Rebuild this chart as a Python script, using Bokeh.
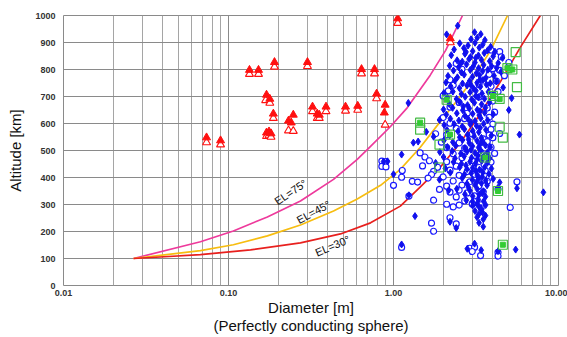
import math
from bokeh.plotting import figure
from bokeh.models import FixedTicker, PrintfTickFormatter, Range1d
from bokeh.embed import file_html
from bokeh.resources import INLINE
from bokeh.core.properties import value

# ---------------- data ----------------
x_ticks = [0.01, 0.1, 1.0, 10.0]
x_minor = [2e-2, 3e-2, 4e-2, 5e-2, 6e-2, 7e-2, 8e-2, 9e-2,
           0.2, 0.3, 0.4, 0.5, 0.6, 0.7, 0.8, 0.9,
           2, 3, 4, 5, 6, 7, 8, 9]
y_ticks = [0, 100, 200, 300, 400, 500, 600, 700, 800, 900, 1000]

x_title = "Diameter [m]\n(Perfectly conducting sphere)"
y_title = "Altitude [km]"

# detection limit curves (diameter m, altitude km)
el75_d = [0.0266, 0.0676, 0.107, 0.172, 0.273, 0.433, 0.603, 0.726, 0.956, 1.21, 1.67, 2.07, 2.62]
el75_h = [100, 162, 202, 254, 313, 393, 467, 515, 588, 658, 779, 871, 1000]
el45_d = [0.0266, 0.0676, 0.107, 0.172, 0.273, 0.433, 0.603, 0.835, 1.10, 1.45, 1.92, 2.45, 2.94, 3.88, 4.91]
el45_h = [100, 129, 151, 184, 224, 276, 320, 371, 430, 511, 607, 688, 754, 871, 1000]
el30_d = [0.0266, 0.0676, 0.136, 0.273, 0.477, 0.726, 1.10, 1.45, 1.92, 2.54, 3.36, 4.44, 5.87, 7.76]
el30_h = [100, 114, 132, 158, 191, 232, 294, 364, 438, 529, 636, 754, 882, 1000]

curve_labels = ["EL=75°", "EL=45°", "EL=30°"]
curve_label_d = [0.238, 0.327, 0.427]
curve_label_h = [346, 272, 147]
curve_label_angle_deg = [34, 28, 23]

# red triangles (filled) and open triangles
tri_fill_d = [0.0736, 0.0895, 0.134, 0.152, 0.190, 0.301, 0.170, 0.178, 0.187, 0.170, 0.176, 0.181,
              0.231, 0.247, 0.240, 0.323, 0.345, 0.355, 0.39, 0.512, 0.607, 0.64, 0.767, 0.79,
              0.89, 0.88, 1.06, 2.21]
tri_fill_h = [548, 537, 798, 798, 827, 827, 706, 691, 636, 566, 570, 563,
              610, 632, 603, 662, 636, 632, 662, 662, 665, 801, 801, 710,
              669, 640, 989, 915]
tri_open_d = [0.0736, 0.0895, 0.134, 0.152, 0.190, 0.301, 0.168, 0.178, 0.187, 0.170, 0.176, 0.181,
              0.231, 0.247, 0.323, 0.345, 0.355, 0.39, 0.512, 0.607, 0.64, 0.767, 0.79,
              0.89, 1.06, 2.21]
tri_open_h = [530, 522, 783, 783, 810, 812, 686, 676, 620, 553, 556, 550,
              574, 572, 645, 620, 620, 645, 647, 650, 785, 785, 693,
              595, 972, 900]

# blue filled markers (diameter m, altitude km)
blue_filled = [
    (2.45, 962), (2.1, 930), (3.1, 938), (3.38, 931), (2.95, 912), (3.22, 918), (3.58, 909),
    (2.52, 897), (2.83, 889), (3.12, 899), (3.47, 892), (3.88, 884), (2.33, 874), (2.67, 879),
    (3.02, 868), (3.31, 881), (3.72, 871), (4.12, 866), (2.75, 865),
    (2.24, 853), (2.71, 858), (2.93, 846), (3.27, 852), (3.55, 861), (4.02, 849), (4.58, 843), (3.15, 843),
    (2.43, 834), (2.61, 829), (2.87, 839), (3.12, 826), (3.41, 836), (3.83, 831), (4.31, 824), (2.55, 822),
    (2.19, 814), (2.48, 808), (2.77, 819), (3.04, 811), (3.28, 805), (3.52, 817), (3.93, 812), (4.22, 806),
    (2.31, 796), (2.58, 789), (2.92, 798), (3.18, 786), (3.47, 794), (3.73, 799), (4.48, 791),
    (2.14, 776), (2.44, 771), (2.68, 781), (3.01, 773), (3.32, 779), (3.62, 768), (4.07, 777), (3.35, 763),
    (2.08, 752), (2.36, 759), (2.62, 748), (2.89, 757), (3.21, 751), (3.49, 761), (3.86, 749), (4.21, 756),
    (2.22, 738), (2.51, 731), (2.79, 741), (3.06, 729), (3.36, 736), (3.66, 744), (4.62, 733), (2.95, 742),
    (2.02, 713), (2.29, 718), (2.58, 709), (2.91, 716), (3.16, 721), (3.44, 711), (3.76, 717), (4.01, 708),
    (2.12, 696), (2.41, 691), (2.72, 699), (2.98, 689), (3.27, 697), (3.56, 692), (5.2, 694), (3.15, 702),
    (1.23, 676), (2.18, 672), (2.52, 679), (2.81, 668), (3.09, 677), (3.42, 671), (3.82, 678), (2.65, 663),
    (2.01, 652), (2.28, 658), (2.63, 649), (2.88, 656), (3.22, 651), (3.61, 659), (5.0, 650), (3.35, 646),
    (2.09, 633), (2.42, 638), (2.71, 629), (3.02, 636), (3.31, 631), (3.57, 640), (4.02, 634),
    (1.9, 613), (2.21, 618), (2.49, 611), (2.83, 617), (3.12, 609), (3.38, 619), (3.72, 612), (2.95, 604),
    (2.03, 594), (2.33, 598), (2.61, 589), (2.92, 597), (3.19, 591), (3.52, 599), (3.35, 584),
    (1.58, 569), (2.11, 576), (2.46, 571), (2.69, 579), (3.02, 573), (3.29, 568), (3.63, 577),
    (1.75, 551), (2.19, 556), (2.52, 549), (2.81, 558), (3.08, 553), (3.41, 547), (3.92, 556), (5.8, 559),
    (1.32, 529), (1.41, 533), (2.02, 537), (2.29, 531), (2.62, 539), (2.88, 528), (3.21, 536), (3.48, 531),
    (2.85, 541), (3.35, 523),
    (2.12, 513), (2.38, 518), (2.71, 509), (3.01, 516), (3.28, 511), (3.61, 519), (3.86, 512), (2.95, 503),
    (1.91, 494), (2.27, 498), (2.56, 489), (2.79, 496), (3.12, 491), (3.39, 499), (3.71, 493), (1.12, 485),
    (2.01, 476), (2.36, 471), (2.68, 479), (2.97, 473), (3.22, 468), (3.52, 477), (3.82, 472), (3.25, 481),
    (0.87, 459), (0.92, 460), (1.8, 454), (2.31, 457), (2.58, 451), (2.91, 458), (3.14, 452), (3.42, 461),
    (3.71, 455), (2.75, 445),
    (2.06, 434), (2.52, 438), (2.79, 431), (3.02, 436), (3.32, 429), (3.58, 439), (3.92, 433), (3.15, 424),
    (1.0, 412), (2.21, 418), (2.69, 411), (2.96, 416), (3.22, 409), (3.48, 419), (3.79, 413), (3.45, 403),
    (1.9, 392), (2.61, 398), (3.01, 391), (3.29, 397), (3.62, 389), (4.02, 395), (3.2, 385),
    (2.79, 377), (3.12, 372), (3.41, 379), (3.69, 371), (4.4, 382), (2.85, 363),
    (5.6, 360), (2.16, 353), (2.42, 358), (2.91, 351), (3.22, 357), (3.51, 349), (4.3, 362), (8.1, 345),
    (3.45, 342), (1.24, 334), (2.71, 338), (3.02, 331), (3.31, 337), (3.61, 329),
    (2.76, 316), (3.01, 311), (3.27, 318), (3.52, 312), (3.2, 302),
    (3.02, 296), (3.31, 291), (3.62, 298), (3.4, 285),
    (3.12, 276), (3.46, 271), (3.3, 265),
    (1.35, 257), (3.21, 253), (3.61, 259), (3.5, 245),
    (2.2, 236), (3.3, 232), (2.4, 213), (3.5, 218),
    (1.12, 152), (3.1, 155), (2.8, 136), (3.4, 131), (4.3, 127), (5.5, 133),
]

# blue open markers (diameter m, altitude km)
blue_open = [
    (3.9, 872), (4.4, 866), (4.5, 847), (5.0, 826), (2.4, 822), (4.0, 803), (4.4, 797), (2.6, 801),
    (3.8, 782), (4.7, 777), (2.2, 762), (4.2, 757), (2.3, 742), (3.9, 738), (3.3, 744),
    (2.15, 721), (4.3, 718), (2.0, 702), (3.3, 698), (4.0, 683), (2.5, 678), (2.2, 661), (3.7, 657),
    (4.1, 642), (2.8, 638), (2.0, 622), (2.7, 618), (3.8, 623), (2.2, 601), (4.0, 598),
    (2.4, 582), (3.9, 578), (1.8, 562), (2.1, 558), (3.0, 561), (3.8, 557), (4.4, 563),
    (4.0, 547), (3.5, 543), (1.95, 531), (2.5, 528), (3.7, 533), (2.1, 511), (2.7, 508), (3.9, 512),
    (1.45, 491), (2.3, 488), (3.4, 492), (4.1, 489), (1.55, 476), (2.6, 473), (3.6, 477),
    (0.85, 461), (0.9, 459), (1.65, 462), (2.1, 458), (3.0, 463), (3.9, 457),
    (0.85, 441), (0.9, 439), (1.5, 443), (1.85, 438), (2.4, 442), (3.3, 437),
    (1.13, 426), (1.75, 423), (2.2, 427), (2.8, 422), (3.6, 425), (1.7, 411), (2.5, 408), (3.1, 412),
    (1.12, 401), (1.62, 398), (2.0, 402), (3.8, 399), (1.3, 386), (1.4, 383), (2.3, 387), (2.9, 384),
    (3.7, 386), (5.6, 384), (1.0, 371), (2.1, 368), (2.6, 372), (3.3, 369),
    (1.9, 356), (2.5, 353), (4.3, 357), (2.2, 346), (2.8, 343), (3.5, 347),
    (1.24, 331), (2.4, 328), (3.1, 332), (1.75, 316), (2.7, 313),
    (2.1, 301), (2.5, 298), (3.0, 302), (3.4, 299), (2.3, 291), (3.4, 288), (5.1, 289),
    (2.2, 251), (1.7, 231), (2.4, 228), (1.75, 201),
    (1.12, 141), (2.9, 138), (3.1, 142), (3.0, 126), (4.3, 123), (3.37, 111), (4.3, 109),
]

# green squares
green_open_d = [5.5, 4.9, 5.25, 5.6, 4.0, 4.4, 4.4, 4.6, 1.45, 1.45, 2.1, 1.9, 2.2, 1.9, 3.6, 4.3, 4.6]
green_open_h = [864, 805, 800, 735, 702, 691, 588, 548, 603, 577, 688, 437, 559, 522, 474, 350, 151]
green_fill_d = [4.9, 5.25, 4.0, 4.4, 1.45, 2.1, 2.2, 3.6, 4.3, 4.6]
green_fill_h = [805, 800, 702, 691, 603, 688, 559, 474, 350, 151]

# ---------------- build ----------------
bf_d = [d for d, h in blue_filled]
bf_h = [h for d, h in blue_filled]
bo_d = [d for d, h in blue_open]
bo_h = [h for d, h in blue_open]

p = figure(width=567, height=337, x_axis_type="log",
           x_range=Range1d(0.01, 10), y_range=Range1d(0, 1000),
           output_backend="svg", toolbar_location=None,
           min_border_left=63, min_border_right=9, min_border_top=15, min_border_bottom=10)
p.background_fill_color = "white"
p.border_fill_color = "white"
p.outline_line_color = "#8a8a8a"

xt = FixedTicker(ticks=x_ticks, minor_ticks=x_minor)
yt = FixedTicker(ticks=y_ticks)
p.xaxis.ticker = xt
p.xgrid.ticker = xt
p.yaxis.ticker = yt
p.ygrid.ticker = yt
p.xaxis.formatter = PrintfTickFormatter(format="%.2f")

for ax in (p.xaxis, p.yaxis):
    ax.axis_line_color = None
    ax.major_tick_line_color = None
    ax.minor_tick_line_color = None
    ax.major_tick_out = 0
    ax.minor_tick_out = 0
    ax.major_tick_in = 0
    ax.minor_tick_in = 0
    ax.major_label_text_font = "Liberation Sans"
    ax.major_label_text_font_size = "9px"
    ax.major_label_text_font_style = "bold"
    ax.major_label_text_color = "#333333"
    ax.axis_label_text_font = "Liberation Sans"
    ax.axis_label_text_font_size = "15px"
    ax.axis_label_text_font_style = "normal"
    ax.axis_label_text_color = "#111111"
    ax.axis_label_text_line_height = 1.1
p.xaxis.major_label_standoff = 4
p.yaxis.major_label_standoff = 8
p.xaxis.axis_label = x_title
p.yaxis.axis_label = y_title
p.xaxis.axis_label_standoff = 0
p.yaxis.axis_label_standoff = 8

p.xgrid.grid_line_color = "#8a8a8a"
p.xgrid.minor_grid_line_color = "#a5a5a5"
p.ygrid.grid_line_color = "#8a8a8a"

# curves
p.line(el75_d, el75_h, line_color="#ee3a9c", line_width=1.7)
p.line(el45_d, el45_h, line_color="#f7bd10", line_width=1.7)
p.line(el30_d, el30_h, line_color="#e8201e", line_width=1.7)

p.text(x=curve_label_d, y=curve_label_h, text=curve_labels,
       angle=[math.radians(a) for a in curve_label_angle_deg],
       text_font=value("Liberation Sans"), text_font_size="11px",
       text_color="#111111", text_align="center", text_baseline="middle")

# red triangles
p.scatter(tri_open_d, tri_open_h, marker="triangle", size=8, line_color="#ff1010",
          line_width=1.1, fill_color="white")
p.scatter(tri_fill_d, tri_fill_h, marker="triangle", size=8, line_color="#ff1010",
          fill_color="#ff1010")

# blue
p.scatter(bo_d, bo_h, marker="circle", size=6, line_color="#1a1aff", line_width=1.2,
          fill_color="white")
p.scatter(bf_d, bf_h, marker="diamond", size=7, line_color="#1010ee", fill_color="#1010ee")

# green
p.scatter(green_open_d, green_open_h, marker="square", size=9, line_color="#44bb44",
          line_width=1.2, fill_color=None)
p.scatter(green_fill_d, green_fill_h, marker="square", size=5, line_color="#33cc33",
          fill_color="#33cc33")

open("out.html", "w").write(file_html(p, INLINE))
